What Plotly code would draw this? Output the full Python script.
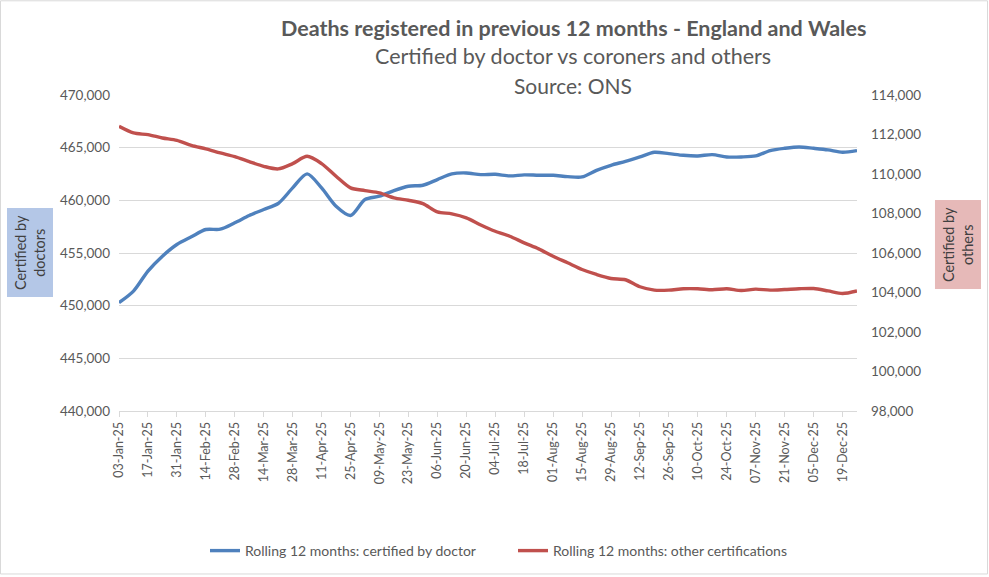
import plotly.graph_objects as go
import pandas as pd

weeks = pd.date_range("2025-01-03", periods=52, freq="7D")

doctor = [450280, 451380, 453280, 454700, 455810, 456540, 457230, 457260, 457870, 458560,
          459130, 459700, 461180, 462510, 461180, 459440, 458560, 460075, 460390, 460930,
          461340, 461430, 461970, 462510, 462600, 462440, 462470, 462320, 462420, 462380,
          462380, 462255, 462220, 462850, 463330, 463700, 464120, 464560, 464435, 464275,
          464215, 464340, 464120, 464120, 464215, 464720, 464940, 465070, 464940, 464790,
          464560, 464720]

others = [112412, 112078, 111992, 111825, 111705, 111450, 111270, 111067, 110880, 110627,
          110390, 110257, 110526, 110895, 110526, 109884, 109297, 109160, 109044, 108790,
          108670, 108500, 108083, 107982, 107780, 107420, 107100, 106850, 106515, 106210,
          105838, 105504, 105165, 104912, 104710, 104645, 104290, 104120, 104120, 104190,
          104190, 104140, 104190, 104100, 104170, 104120, 104150, 104190, 104200, 104080,
          103950, 104080]

tick_dates = list(weeks[::2])
tick_labels = [d.strftime("%d-%b-%y") for d in tick_dates]

FONT = "Lato"
GRAY = "#595959"

fig = go.Figure()
fig.add_trace(go.Scatter(x=weeks, y=doctor, name="Rolling 12 months: certified by doctor",
                         mode="lines", line=dict(color="#4f81bd", width=3.4, shape="spline", smoothing=0.8),
                         yaxis="y"))
fig.add_trace(go.Scatter(x=weeks, y=others, name="Rolling 12 months: other certifications",
                         mode="lines", line=dict(color="#c0504d", width=3.4, shape="spline", smoothing=0.8),
                         yaxis="y2"))

L, R, T, B = 119, 132, 95, 165
W, H = 989, 577
pw, ph = W - L - R, H - T - B

def px(x):
    return (x - L) / pw

def py(y):
    return (H - B - y) / ph

fig.update_layout(
    width=W, height=H,
    margin=dict(l=L, r=R, t=T, b=B),
    paper_bgcolor="white", plot_bgcolor="white",
    font=dict(family=FONT, color=GRAY, size=12),
    showlegend=True,
    legend=dict(orientation="h", x=px(205), y=py(551), xanchor="left", yanchor="middle",
                font=dict(family=FONT, size=14, color=GRAY), tracegroupgap=0,
                entrywidth=263),
    xaxis=dict(type="date", range=[weeks[0], weeks[-1]], tickvals=tick_dates, ticktext=tick_labels,
               tickangle=-90, showgrid=False, showline=True, linecolor="#d9d9d9", linewidth=1,
               ticks="outside", ticklen=5, tickcolor="#d9d9d9",
               tickfont=dict(family=FONT, size=12.5, color=GRAY), zeroline=False),
    yaxis=dict(range=[440000, 470000], dtick=5000, tickformat=",", showgrid=True,
               gridcolor="#d9d9d9", gridwidth=1, zeroline=False, showline=False,
               tickfont=dict(family=FONT, size=13.5, color=GRAY), ticks="", ticklabelstandoff=8),
    yaxis2=dict(range=[98000, 114000], dtick=2000, tickformat=",", overlaying="y", side="right",
                showgrid=False, zeroline=False, showline=False,
                tickfont=dict(family=FONT, size=13.5, color=GRAY), ticklabelstandoff=13),
)

fig.add_annotation(text="<b>Deaths registered in previous 12 months - England and Wales</b>",
                   x=px(573), y=py(28), xref="paper", yref="paper", showarrow=False,
                   xanchor="center", yanchor="middle",
                   font=dict(family=FONT, size=21.5, color="#595959"))
fig.add_annotation(text="Certified by doctor vs coroners and others",
                   x=px(573), y=py(56), xref="paper", yref="paper", showarrow=False,
                   xanchor="center", yanchor="middle",
                   font=dict(family=FONT, size=21.5, color="#595959"))
fig.add_annotation(text="Source: ONS",
                   x=px(573), y=py(85), xref="paper", yref="paper", showarrow=False,
                   xanchor="center", yanchor="middle",
                   font=dict(family=FONT, size=21, color="#595959"))

fig.add_annotation(text="Certified by<br>doctors", textangle=-90,
                   x=px(29.5), y=py(253.5), xref="paper", yref="paper", showarrow=False,
                   xanchor="center", yanchor="middle",
                   bgcolor="#b4c7e7", borderpad=0, width=88, height=45,
                   font=dict(family=FONT, size=14.5, color="#404040"))
fig.add_annotation(text="Certified by<br>others", textangle=-90,
                   x=px(958), y=py(245), xref="paper", yref="paper", showarrow=False,
                   xanchor="center", yanchor="middle",
                   bgcolor="#e6b9b8", borderpad=0, width=88, height=45,
                   font=dict(family=FONT, size=14.5, color="#404040"))

fig.add_shape(type="rect", xref="paper", yref="paper",
              x0=px(0.5), x1=px(W - 1.5), y0=py(H - 1.5), y1=py(0.5),
              line=dict(color="#d9d9d9", width=1), layer="below")

fig.write_html("out.html")
